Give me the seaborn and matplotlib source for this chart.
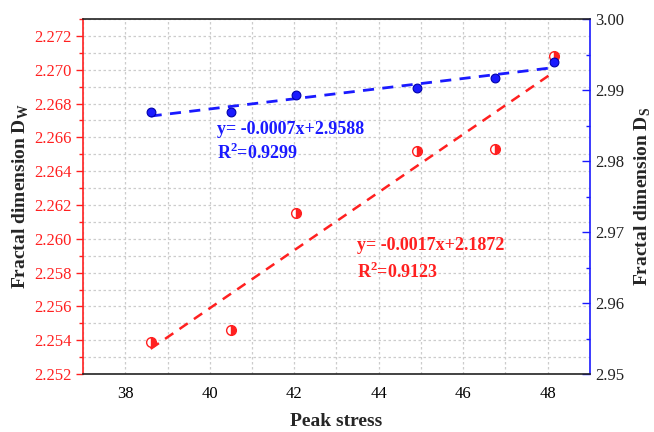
import numpy as np
import pandas as pd
import matplotlib
matplotlib.use("Agg")
import matplotlib.pyplot as plt
from matplotlib.ticker import MultipleLocator, FormatStrFormatter
import seaborn as sns

sns.set_style("white")
plt.rcParams['font.family'] = ['Liberation Serif', 'DejaVu Serif']
plt.rcParams['mathtext.fontset'] = 'custom'
plt.rcParams['mathtext.rm'] = 'Liberation Serif'
plt.rcParams['mathtext.bf'] = 'Liberation Serif:bold'

# Data
peak_stress = [38.6, 40.5, 42.05, 44.9, 46.75, 48.15]
d_w = [2.2539, 2.2546, 2.2615, 2.2652, 2.2653, 2.2708]
d_s = [2.9869, 2.9869, 2.9893, 2.9903, 2.9917, 2.9939]

eq_w = "y= -0.0017x+2.1872"
r2_w = "0.9123"
eq_s = "y= -0.0007x+2.9588"
r2_s = "0.9299"

df = pd.DataFrame({'stress': peak_stress, 'dw': d_w, 'ds': d_s})

red = '#ff2020'
blue = '#1a1aff'

fig = plt.figure(figsize=(6.54, 4.32), dpi=100)
ax = fig.add_axes([0.127, 0.134, 0.775, 0.822])
ax2 = ax.twinx()

# Left axis: D_W
sns.regplot(data=df, x='stress', y='dw', ax=ax, scatter=False, ci=None,
            line_kws=dict(color=red, lw=1.8, ls=(0, (4, 3))))
ax.plot(df['stress'], df['dw'], ls='none', marker='o', ms=7, fillstyle='right',
        color=red, markerfacecoloralt='white', mec=red, mew=1, zorder=5)

# Right axis: D_S
sns.regplot(data=df, x='stress', y='ds', ax=ax2, scatter=False, ci=None,
            line_kws=dict(color=blue, lw=2, ls=(0, (4, 3))))
sns.scatterplot(data=df, x='stress', y='ds', ax=ax2, color=blue, s=40,
                edgecolor='#0000aa', linewidth=0.8, zorder=5)

ax.set_xlim(37, 49)
ax.set_ylim(2.252, 2.273)
ax2.set_ylim(2.95, 3.00)

ax.xaxis.set_major_locator(MultipleLocator(2))
ax.xaxis.set_minor_locator(MultipleLocator(1))
ax.yaxis.set_major_locator(MultipleLocator(0.002))
ax.yaxis.set_minor_locator(MultipleLocator(0.001))
ax.yaxis.set_major_formatter(FormatStrFormatter('%.3f'))
ax2.yaxis.set_major_locator(MultipleLocator(0.01))
ax2.yaxis.set_minor_locator(MultipleLocator(0.005))
ax2.yaxis.set_major_formatter(FormatStrFormatter('%.2f'))

ax.grid(True, which='both', color='#cccccc', ls=(0, (2, 2)), lw=0.9)
ax.set_axisbelow(True)

ax.tick_params(axis='x', which='major', direction='out', length=5, width=1,
               colors='black', labelsize=12)
ax.tick_params(axis='x', which='minor', direction='out', length=3, width=1, colors='black')
ax.tick_params(axis='y', which='major', direction='out', length=5, width=1,
               colors=red, labelsize=12, labelcolor=red)
ax.tick_params(axis='y', which='minor', direction='out', length=3, width=1, colors=red)
ax2.tick_params(axis='y', which='major', direction='in', length=6, width=1,
                colors=blue, labelcolor='#222222', labelsize=12)
ax2.tick_params(axis='y', which='minor', direction='in', length=3, width=1, colors=blue)

for sp in ax2.spines.values():
    sp.set_linewidth(1.2)
ax2.spines['left'].set_color(red)
ax2.spines['right'].set_color(blue)
ax2.spines['top'].set_color('#222222')
ax2.spines['bottom'].set_color('#222222')
for sp in ax.spines.values():
    sp.set_visible(False)

ax.set_xlabel('Peak stress', fontsize=14, fontweight='bold', labelpad=8)
ax.set_ylabel(r'Fractal dimension D$_\mathregular{W}$', fontsize=14,
              fontweight='bold', labelpad=2)
ax2.set_ylabel(r'Fractal dimension D$_\mathregular{S}$', fontsize=14,
               fontweight='bold', labelpad=6)

ax.text(0.540, 0.363, eq_w, transform=ax.transAxes, color=red, fontsize=13,
        fontweight='bold', va='center')
ax.text(0.540, 0.287, r'R$^\mathregular{2}$=' + r2_w, transform=ax.transAxes,
        color=red, fontsize=13, fontweight='bold', va='center')
ax.text(0.264, 0.690, eq_s, transform=ax.transAxes, color=blue, fontsize=13,
        fontweight='bold', va='center')
ax.text(0.264, 0.622, r'R$^\mathregular{2}$=' + r2_s, transform=ax.transAxes,
        color=blue, fontsize=13, fontweight='bold', va='center')

fig.savefig('out.png', dpi=100)
